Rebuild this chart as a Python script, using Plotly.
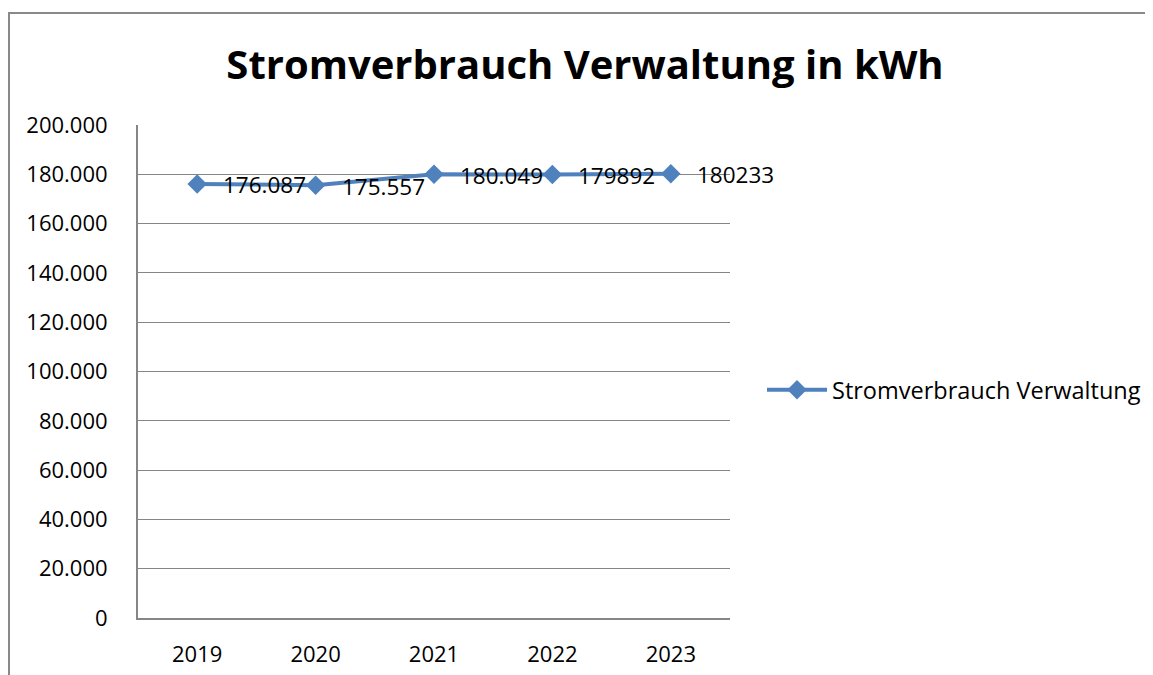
import plotly.graph_objects as go

years = ["2019", "2020", "2021", "2022", "2023"]
values = [176087, 175557, 180049, 179892, 180233]
value_labels = ["176.087", "175.557", "180.049", "179892", "180233"]
series_name = "Stromverbrauch Verwaltung"
title_text = "Stromverbrauch Verwaltung in kWh"
y_ticks = list(range(0, 200001, 20000))
y_tick_text = ["0"] + [f"{v // 1000}.000" for v in y_ticks[1:]]

OFF = 8  # page body margin
W, H = 1153 - OFF, 675 - OFF
L, R, T, B = 138 - OFF, 730 - OFF, 125 - OFF, 618 - OFF

FONT = "Open Sans, sans-serif"

fig = go.Figure()
fig.add_trace(go.Scatter(
    x=years, y=values, mode="lines+markers", name=series_name,
    line=dict(color="#4F81BD", width=4),
    marker=dict(symbol="diamond", size=15, color="#4F81BD"),
))

for i, (y, t) in enumerate(zip(values, value_labels)):
    fig.add_annotation(x=i, y=y, xref="x", yref="y", text=t, showarrow=False,
                       xanchor="left", yanchor="middle", xshift=24, yshift=-1,
                       font=dict(family=FONT, size=22.5, color="black"))

def px_x(p):
    return (p - OFF - L) / (R - L)

def px_y(p):
    return (B - (p - OFF)) / (B - T)

fig.add_shape(type="rect", xref="paper", yref="paper",
              x0=px_x(9), x1=px_x(1170), y0=px_y(700), y1=px_y(13),
              line=dict(color="#898989", width=2), fillcolor="rgba(0,0,0,0)", layer="below")

fig.update_layout(
    width=W, height=H,
    margin=dict(l=L, r=W - R, t=T, b=H - B, autoexpand=False),
    paper_bgcolor="white", plot_bgcolor="white",
    title=dict(text="<b>" + title_text + "</b>", x=(585 - OFF) / W, xanchor="center",
               y=1 - (65 - OFF) / H, yanchor="middle",
               font=dict(family=FONT, size=40, color="black")),
    font=dict(family=FONT, color="black"),
    showlegend=True,
    legend=dict(x=px_x(762), y=px_y(390), xanchor="left", yanchor="middle",
                font=dict(size=23.5, color="black"), bgcolor="rgba(0,0,0,0)",
                itemwidth=60),
    xaxis=dict(type="category", range=[-0.5, 4.5], showgrid=False, automargin=False,
               showline=True, linecolor="#868686", linewidth=2, ticks="",
               tickfont=dict(size=22), ticklabelstandoff=16),
    yaxis=dict(range=[0, 200000], tickvals=y_ticks, ticktext=y_tick_text, automargin=False,
               showgrid=True, gridcolor="#868686", gridwidth=1,
               showline=True, linecolor="#868686", linewidth=2, ticks="",
               tickfont=dict(size=22), ticklabelstandoff=24, zeroline=False),
)

fig.write_html("out.html")
